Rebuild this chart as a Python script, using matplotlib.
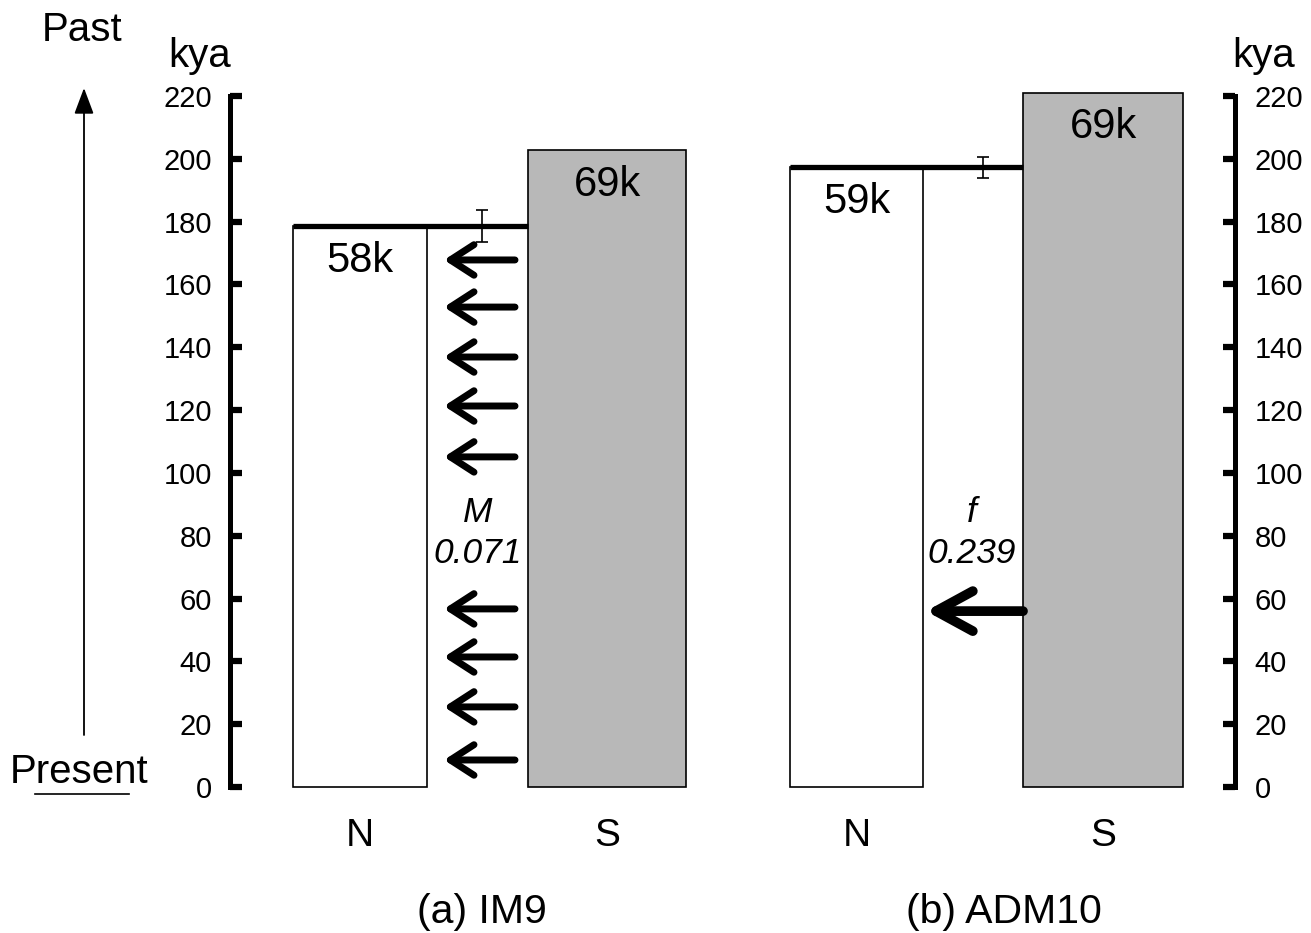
import matplotlib
matplotlib.use("Agg")
import matplotlib.pyplot as plt
from matplotlib.lines import Line2D

plt.rcParams['font.family'] = ['Liberation Sans', 'DejaVu Sans']

# dane (kya)
yticks = [0, 20, 40, 60, 80, 100, 120, 140, 160, 180, 200, 220]
pops = ["N", "S", "N", "S"]
bar_tops = [178.6, 202.8, 197.3, 221.0]
bar_labels = ["58k", "69k", "59k", "69k"]
split_times = [178.6, 197.3]
split_err = [5.0, 3.3]
mig_times = [167.8, 152.8, 136.9, 121.3, 105.1, 56.7, 41.4, 25.5, 8.6]
adm_time = [56.0]
param_names = ["M", "f"]
param_values = ["0.071", "0.239"]
panel_titles = ["(a) IM9", "(b) ADM10"]

# uklad w osi x (jednostki ~ piksele od lewej osi)
bar_left = [63, 298, 560, 793]
bar_width = [134, 158, 133, 160]
bar_fill = ["white", "#b8b8b8", "white", "#b8b8b8"]
err_x = [252, 753]
param_x = [248, 742]

fig = plt.figure(figsize=(13.11, 9.33), dpi=100)
ax = fig.add_axes([230 / 1311, 1 - 787 / 933, 1005 / 1311, (787 - 96) / 933])
ax.set_xlim(0, 1005)
ax.set_ylim(0, 220)

# slupki populacji
centers = [l + w / 2 for l, w in zip(bar_left, bar_width)]
ax.bar(centers, bar_tops, width=bar_width, color=bar_fill, edgecolor="black",
       linewidth=1.2, clip_on=False, zorder=2)
for c, top, lab in zip(centers, bar_tops, bar_labels):
    ax.text(c, top - 11, lab, ha="center", va="center", fontsize=30, zorder=4)

# czas rozdzielenia + blad
for i in range(2):
    ax.hlines(split_times[i], bar_left[2 * i], bar_left[2 * i + 1], color="black",
              linewidth=3.8, zorder=3)
    ax.errorbar(err_x[i], split_times[i], yerr=split_err[i], fmt="none",
                ecolor="black", elinewidth=1.2, capsize=4.5, capthick=1.2, zorder=4)

# migracja (IM9)
for t in mig_times:
    ax.annotate("", xy=(214, t), xytext=(285, t),
                arrowprops=dict(arrowstyle="->,head_length=0.85,head_width=0.55",
                                lw=5, color="black", mutation_scale=20,
                                shrinkA=0, shrinkB=0, capstyle="round",
                                joinstyle="round"))
# domieszka (ADM10)
for t in adm_time:
    ax.annotate("", xy=(696, t), xytext=(793, t),
                arrowprops=dict(arrowstyle="->,head_length=1.1,head_width=0.6",
                                lw=7, color="black", mutation_scale=24,
                                shrinkA=0, shrinkB=0, capstyle="round",
                                joinstyle="round"))

for x, name, val in zip(param_x, param_names, param_values):
    ax.text(x, 87.5, name, ha="center", va="center", fontsize=25.5, style="italic")
    ax.text(x, 74.5, val, ha="center", va="center", fontsize=25.5, style="italic")

# osie
for s in ["top", "bottom"]:
    ax.spines[s].set_visible(False)
ax.spines["left"].set_linewidth(3.6)
ax.spines["right"].set_visible(False)
ax.set_yticks(yticks)
ax.tick_params(axis="y", direction="in", length=8.6, width=4.5, labelsize=21, pad=13)
ax.set_xticks(centers)
ax.set_xticklabels(pops)
ax.tick_params(axis="x", length=0, labelsize=28, pad=22)

ax2 = ax.twinx()
ax2.set_ylim(0, 220)
for s in ["top", "bottom", "left"]:
    ax2.spines[s].set_visible(False)
ax2.spines["right"].set_linewidth(3.6)
ax2.set_yticks(yticks)
ax2.tick_params(axis="y", direction="in", length=8.6, width=4.5, labelsize=21, pad=14)

# podpisy
fig.text(200 / 1311, 1 - 56 / 933, "kya", ha="center", va="center", fontsize=29)
fig.text(1264 / 1311, 1 - 56 / 933, "kya", ha="center", va="center", fontsize=29)
fig.text(82 / 1311, 1 - 30 / 933, "Past", ha="center", va="center", fontsize=29)
fig.text(79 / 1311, 1 - 772 / 933, "Present", ha="center", va="center", fontsize=29)
fig.add_artist(Line2D([35 / 1311, 129 / 1311], [1 - 794 / 933] * 2,
                      color="black", lw=1.2))
ax.annotate("", xy=(84 / 1311, 1 - 88 / 933), xytext=(84 / 1311, 1 - 735 / 933),
            xycoords="figure fraction", textcoords="figure fraction",
            arrowprops=dict(arrowstyle="-|>,head_length=0.8,head_width=0.3",
                            lw=1.3, color="black", mutation_scale=20,
                            shrinkA=0, shrinkB=0))

for cx, title in zip([482, 1004], panel_titles):
    fig.text(cx / 1311, 1 - 912 / 933, title, ha="center", va="center", fontsize=29.5)

fig.savefig("out.png", dpi=100)
